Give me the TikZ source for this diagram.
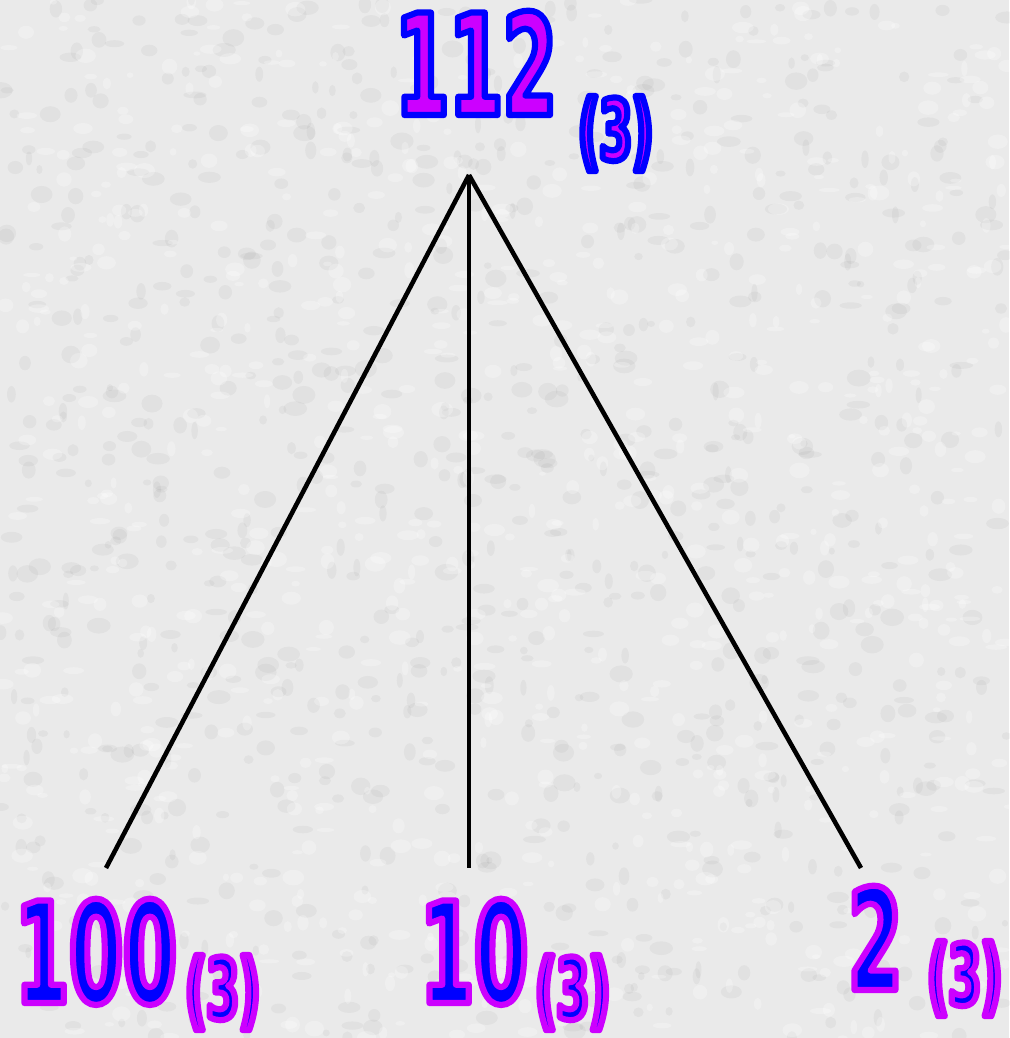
\documentclass[tikz,border=0pt]{standalone}
\usepackage{fontspec}
\newfontfamily\digitfont[FakeStretch=0.55]{DejaVu Sans}
\definecolor{paper}{RGB}{234,234,234}
\definecolor{numpurple}{RGB}{204,0,255}
\definecolor{numblue}{RGB}{0,0,255}
\newcommand{\outlined}[3]{{\color{#1}\special{pdf:literal direct 2 Tr 3.5 w 1 j #2 RG}#3\special{pdf:literal direct 0 Tr}}}

\begin{document}
\begin{tikzpicture}[x=0.02cm,y=-0.02cm,
  bignum/.style={font=\digitfont\bfseries\fontsize{80}{80}\selectfont,inner sep=0pt,anchor=base west},
  basenum/.style={font=\digitfont\bfseries\fontsize{48}{48}\selectfont,inner sep=0pt,anchor=base west},
  edge/.style={line width=2.6pt,black}]
  \fill[paper] (0,0) rectangle (1009,1038);
  \useasboundingbox (0,0) rectangle (1009,1038);
  \pgfmathsetseed{7}
  \foreach \i in {1,...,900}
    \fill[black,opacity=0.035] (rnd*1009,rnd*1038) ellipse ({3+rnd*9} and {3+rnd*6});
  \foreach \i in {1,...,900}
    \fill[white,opacity=0.25] (rnd*1009,rnd*1038) ellipse ({3+rnd*8} and {2+rnd*6});
  \node[bignum] (t112) at (395,115) {\outlined{numpurple}{0 0 1}{112}};
  \node[basenum] (t112b) at (578,160) {\outlined{numpurple}{0 0 1}{(3)}};
  \node[bignum] (n100) at (15,1003) {\outlined{numblue}{0.8 0 1}{100}};
  \node[basenum] (n100b) at (185,1019) {\outlined{numblue}{0.8 0 1}{(3)}};
  \node[bignum] (n10) at (420,1003) {\outlined{numblue}{0.8 0 1}{10}};
  \node[basenum] (n10b) at (535,1019) {\outlined{numblue}{0.8 0 1}{(3)}};
  \node[bignum] (n2) at (848,990) {\outlined{numblue}{0.8 0 1}{2}};
  \node[basenum] (n2b) at (927,1005) {\outlined{numblue}{0.8 0 1}{(3)}};
  \coordinate (apex) at (469,175);
  \coordinate (f100) at (106,868);
  \coordinate (f10) at (469,868);
  \coordinate (f2) at (861,868);
  \draw[edge] (apex) -- (f100);
  \draw[edge] (apex) -- (f10);
  \draw[edge] (apex) -- (f2);
\end{tikzpicture}
\end{document}
